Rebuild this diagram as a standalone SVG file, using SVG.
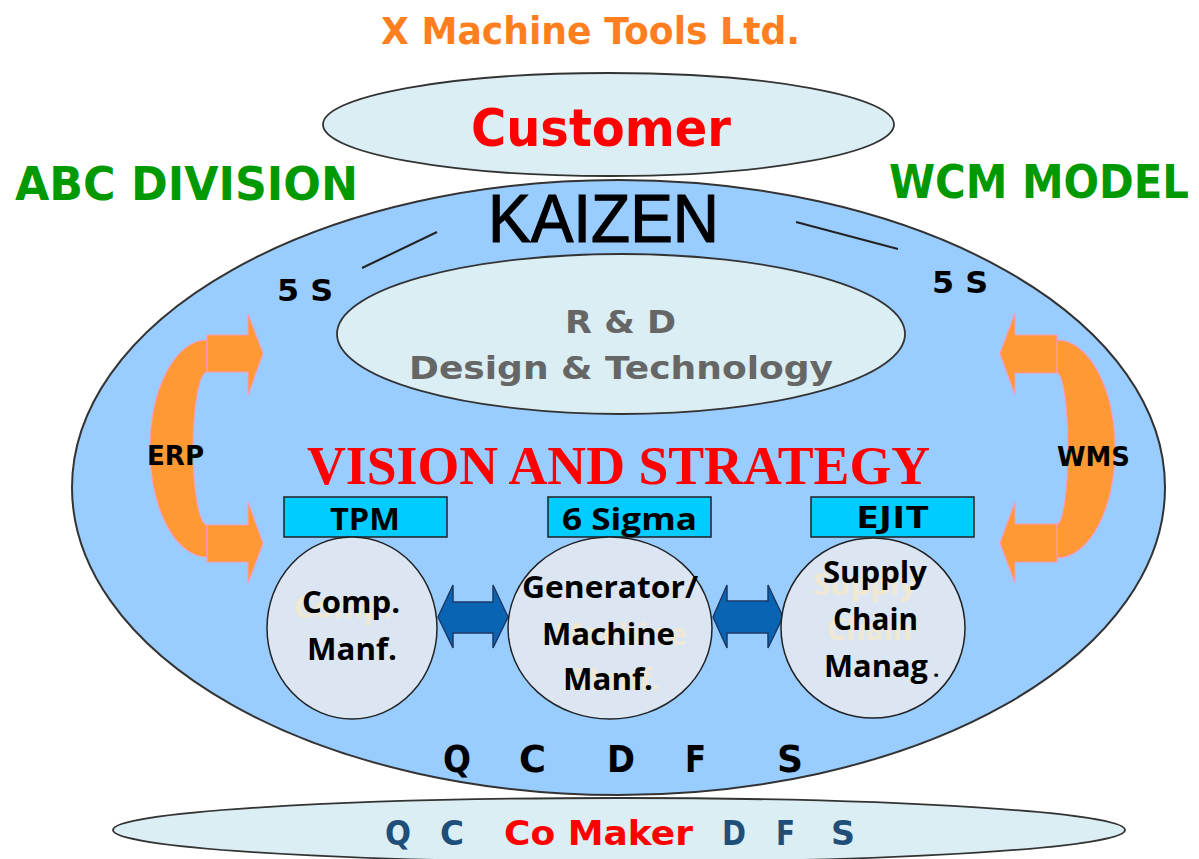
<svg xmlns="http://www.w3.org/2000/svg" width="1199" height="859" viewBox="0 0 1199 859">
<style>
.v{font-family:"DejaVu Sans","Liberation Sans",sans-serif;font-weight:bold}
.c{font-family:"Open Sans","Lato","Liberation Sans",sans-serif;font-weight:bold}
.ghost{fill:#efe8d2}
.band{fill:#FF9933;stroke:#FF99BB;stroke-width:1.2}
.blue{fill:#0A64B4;stroke:#1B3A66;stroke-width:1.5}
.box{fill:#00CCFF;stroke:#222;stroke-width:1.5}
.circ{fill:#DCE6F2;stroke:#222;stroke-width:1.5}
.lite{fill:#DAEEF3;stroke:#333;stroke-width:1.8}
</style>
<rect width="1199" height="859" fill="#fff"/>
<text class="v" x="381" y="44" font-size="37" fill="#FF7F20" textLength="419" lengthAdjust="spacingAndGlyphs">X Machine Tools Ltd.</text>
<text class="v" x="15" y="200" font-size="46" fill="#009900" textLength="343" lengthAdjust="spacingAndGlyphs">ABC DIVISION</text>
<text class="v" x="889" y="198" font-size="46" fill="#009900" textLength="300" lengthAdjust="spacingAndGlyphs">WCM MODEL</text>

<g id="comaker">
<ellipse class="lite" cx="619" cy="830" rx="506" ry="32"/>
<text class="v" y="845" font-size="33" fill="#1F4E79"><tspan x="385" textLength="26" lengthAdjust="spacingAndGlyphs">Q</tspan><tspan x="440" textLength="24" lengthAdjust="spacingAndGlyphs">C</tspan></text>
<text class="v" x="504" y="845" font-size="33" fill="#FF0000" textLength="189" lengthAdjust="spacingAndGlyphs">Co Maker</text>
<text class="v" y="845" font-size="33" fill="#1F4E79"><tspan x="722" textLength="24" lengthAdjust="spacingAndGlyphs">D</tspan><tspan x="776" textLength="19" lengthAdjust="spacingAndGlyphs">F</tspan><tspan x="831" textLength="24" lengthAdjust="spacingAndGlyphs">S</tspan></text>
</g>

<g id="wcm">
<ellipse cx="618.5" cy="487.5" rx="546.5" ry="307.5" fill="#99CCFF" stroke="#333" stroke-width="2"/>
<text x="488" y="242" font-family="Liberation Sans, sans-serif" font-size="68" fill="#000" stroke="#000" stroke-width="1.2" textLength="231" lengthAdjust="spacingAndGlyphs">KAIZEN</text>
<text class="v" x="277" y="301" font-size="30" fill="#000" textLength="56" lengthAdjust="spacingAndGlyphs">5 S</text>
<text class="v" x="932" y="293" font-size="30" fill="#000" textLength="56" lengthAdjust="spacingAndGlyphs">5 S</text>
<text class="v" y="772" font-size="37" fill="#000"><tspan x="443" textLength="28" lengthAdjust="spacingAndGlyphs">Q</tspan><tspan x="519" textLength="27" lengthAdjust="spacingAndGlyphs">C</tspan><tspan x="607" textLength="28" lengthAdjust="spacingAndGlyphs">D</tspan><tspan x="685" textLength="21" lengthAdjust="spacingAndGlyphs">F</tspan><tspan x="777" textLength="26" lengthAdjust="spacingAndGlyphs">S</tspan></text>
<text x="307" y="484" font-family="Liberation Serif, serif" font-weight="bold" font-size="54" fill="#FF0000" textLength="623" lengthAdjust="spacingAndGlyphs">VISION AND STRATEGY</text>
</g>

<g id="customer">
<ellipse class="lite" cx="608.5" cy="124.5" rx="285.5" ry="51.5"/>
<text class="v" x="471" y="146" font-size="52" fill="#FF0000" textLength="260" lengthAdjust="spacingAndGlyphs">Customer</text>
</g>

<g id="rd">
<ellipse class="lite" cx="621" cy="334" rx="284" ry="80"/>
<text class="v" x="565" y="333" font-size="32" fill="#666" textLength="111" lengthAdjust="spacingAndGlyphs">R &amp; D</text>
<text class="v" x="409" y="379" font-size="32" fill="#666" textLength="424" lengthAdjust="spacingAndGlyphs">Design &amp; Technology</text>
</g>

<g id="connectors">
<line x1="362" y1="268" x2="437" y2="232" stroke="#222" stroke-width="2"/>
<line x1="796" y1="222" x2="898" y2="249" stroke="#222" stroke-width="2"/>
<path class="band" d="M207,340 A57,108.5 0 0 0 207,557 L207,525 A14,76.5 0 0 1 207,372 Z"/>
<polygon class="band" points="207,335 248,335 248,314 263,353.5 248,395 248,372 207,372"/>
<polygon class="band" points="207,525 248,525 248,502 263,543.5 248,583 248,562 207,562"/>
<path class="band" d="M1057,340 A58,109 0 0 1 1057,558 L1057,524 A11,75.5 0 0 0 1057,373 Z"/>
<polygon class="band" points="1057,335 1015,335 1015,313 1000,353.5 1015,395 1015,373 1057,373"/>
<polygon class="band" points="1057,524 1015,524 1015,502 1000,543 1015,583 1015,562 1057,562"/>
<polygon class="blue" points="438,617 453,585 453,602 493,602 493,585 508,617 493,648 493,633 453,633 453,648"/>
<polygon class="blue" points="713,617 727,585 727,601 768,601 768,585 783,617 768,648 768,633 727,633 727,648"/>
</g>
<text class="v" x="147" y="465" font-size="27" fill="#000" textLength="57" lengthAdjust="spacingAndGlyphs">ERP</text>
<text class="v" x="1057" y="466" font-size="27" fill="#000" textLength="73" lengthAdjust="spacingAndGlyphs">WMS</text>

<g id="tpm">
<rect class="box" x="284" y="497" width="163" height="40"/>
<text class="c" x="330" y="530" font-size="30" fill="#000" textLength="70" lengthAdjust="spacingAndGlyphs">TPM</text>
<ellipse class="circ" cx="352" cy="628" rx="85" ry="91"/>
<text class="c ghost" x="294" y="618" font-size="30" textLength="98" lengthAdjust="spacingAndGlyphs">Comp.</text>
<text class="c" x="302" y="613" font-size="30" fill="#000" textLength="98" lengthAdjust="spacingAndGlyphs">Comp.</text>
<text class="c" x="307" y="660" font-size="30" fill="#000" textLength="90" lengthAdjust="spacingAndGlyphs">Manf.</text>
</g>

<g id="sigma">
<rect class="box" x="548" y="497" width="163" height="40"/>
<text class="c" x="562" y="530" font-size="30" fill="#000" textLength="135" lengthAdjust="spacingAndGlyphs">6 Sigma</text>
<ellipse class="circ" cx="610" cy="628" rx="102" ry="91"/>
<text class="c ghost" x="554" y="645" font-size="30" textLength="133" lengthAdjust="spacingAndGlyphs">Machine</text>
<text class="c ghost" x="570" y="690" font-size="30" textLength="90" lengthAdjust="spacingAndGlyphs">Manf.</text>
<text class="c" x="522" y="598" font-size="30" fill="#000" textLength="176" lengthAdjust="spacingAndGlyphs">Generator/</text>
<text class="c" x="542" y="645" font-size="30" fill="#000" textLength="133" lengthAdjust="spacingAndGlyphs">Machine</text>
<text class="c" x="563" y="690" font-size="30" fill="#000" textLength="90" lengthAdjust="spacingAndGlyphs">Manf.</text>
</g>

<g id="ejit">
<rect class="box" x="811" y="497" width="163" height="40"/>
<text class="c" x="856" y="528" font-size="30" fill="#000" textLength="73" lengthAdjust="spacingAndGlyphs">EJIT</text>
<ellipse class="circ" cx="873" cy="628" rx="92" ry="90"/>
<text class="c ghost" x="813" y="595" font-size="30" textLength="104" lengthAdjust="spacingAndGlyphs">Supply</text>
<text class="c ghost" x="827" y="640" font-size="30" textLength="85" lengthAdjust="spacingAndGlyphs">Chain</text>
<text class="c" x="823" y="583" font-size="30" fill="#000" textLength="104" lengthAdjust="spacingAndGlyphs">Supply</text>
<text class="c" x="833" y="630" font-size="30" fill="#000" textLength="85" lengthAdjust="spacingAndGlyphs">Chain</text>
<text class="c" x="824" y="677" font-size="30" fill="#000" textLength="104" lengthAdjust="spacingAndGlyphs">Manag</text>
<text class="c" x="933" y="677" font-size="22" fill="#000">.</text>
</g>
</svg>
